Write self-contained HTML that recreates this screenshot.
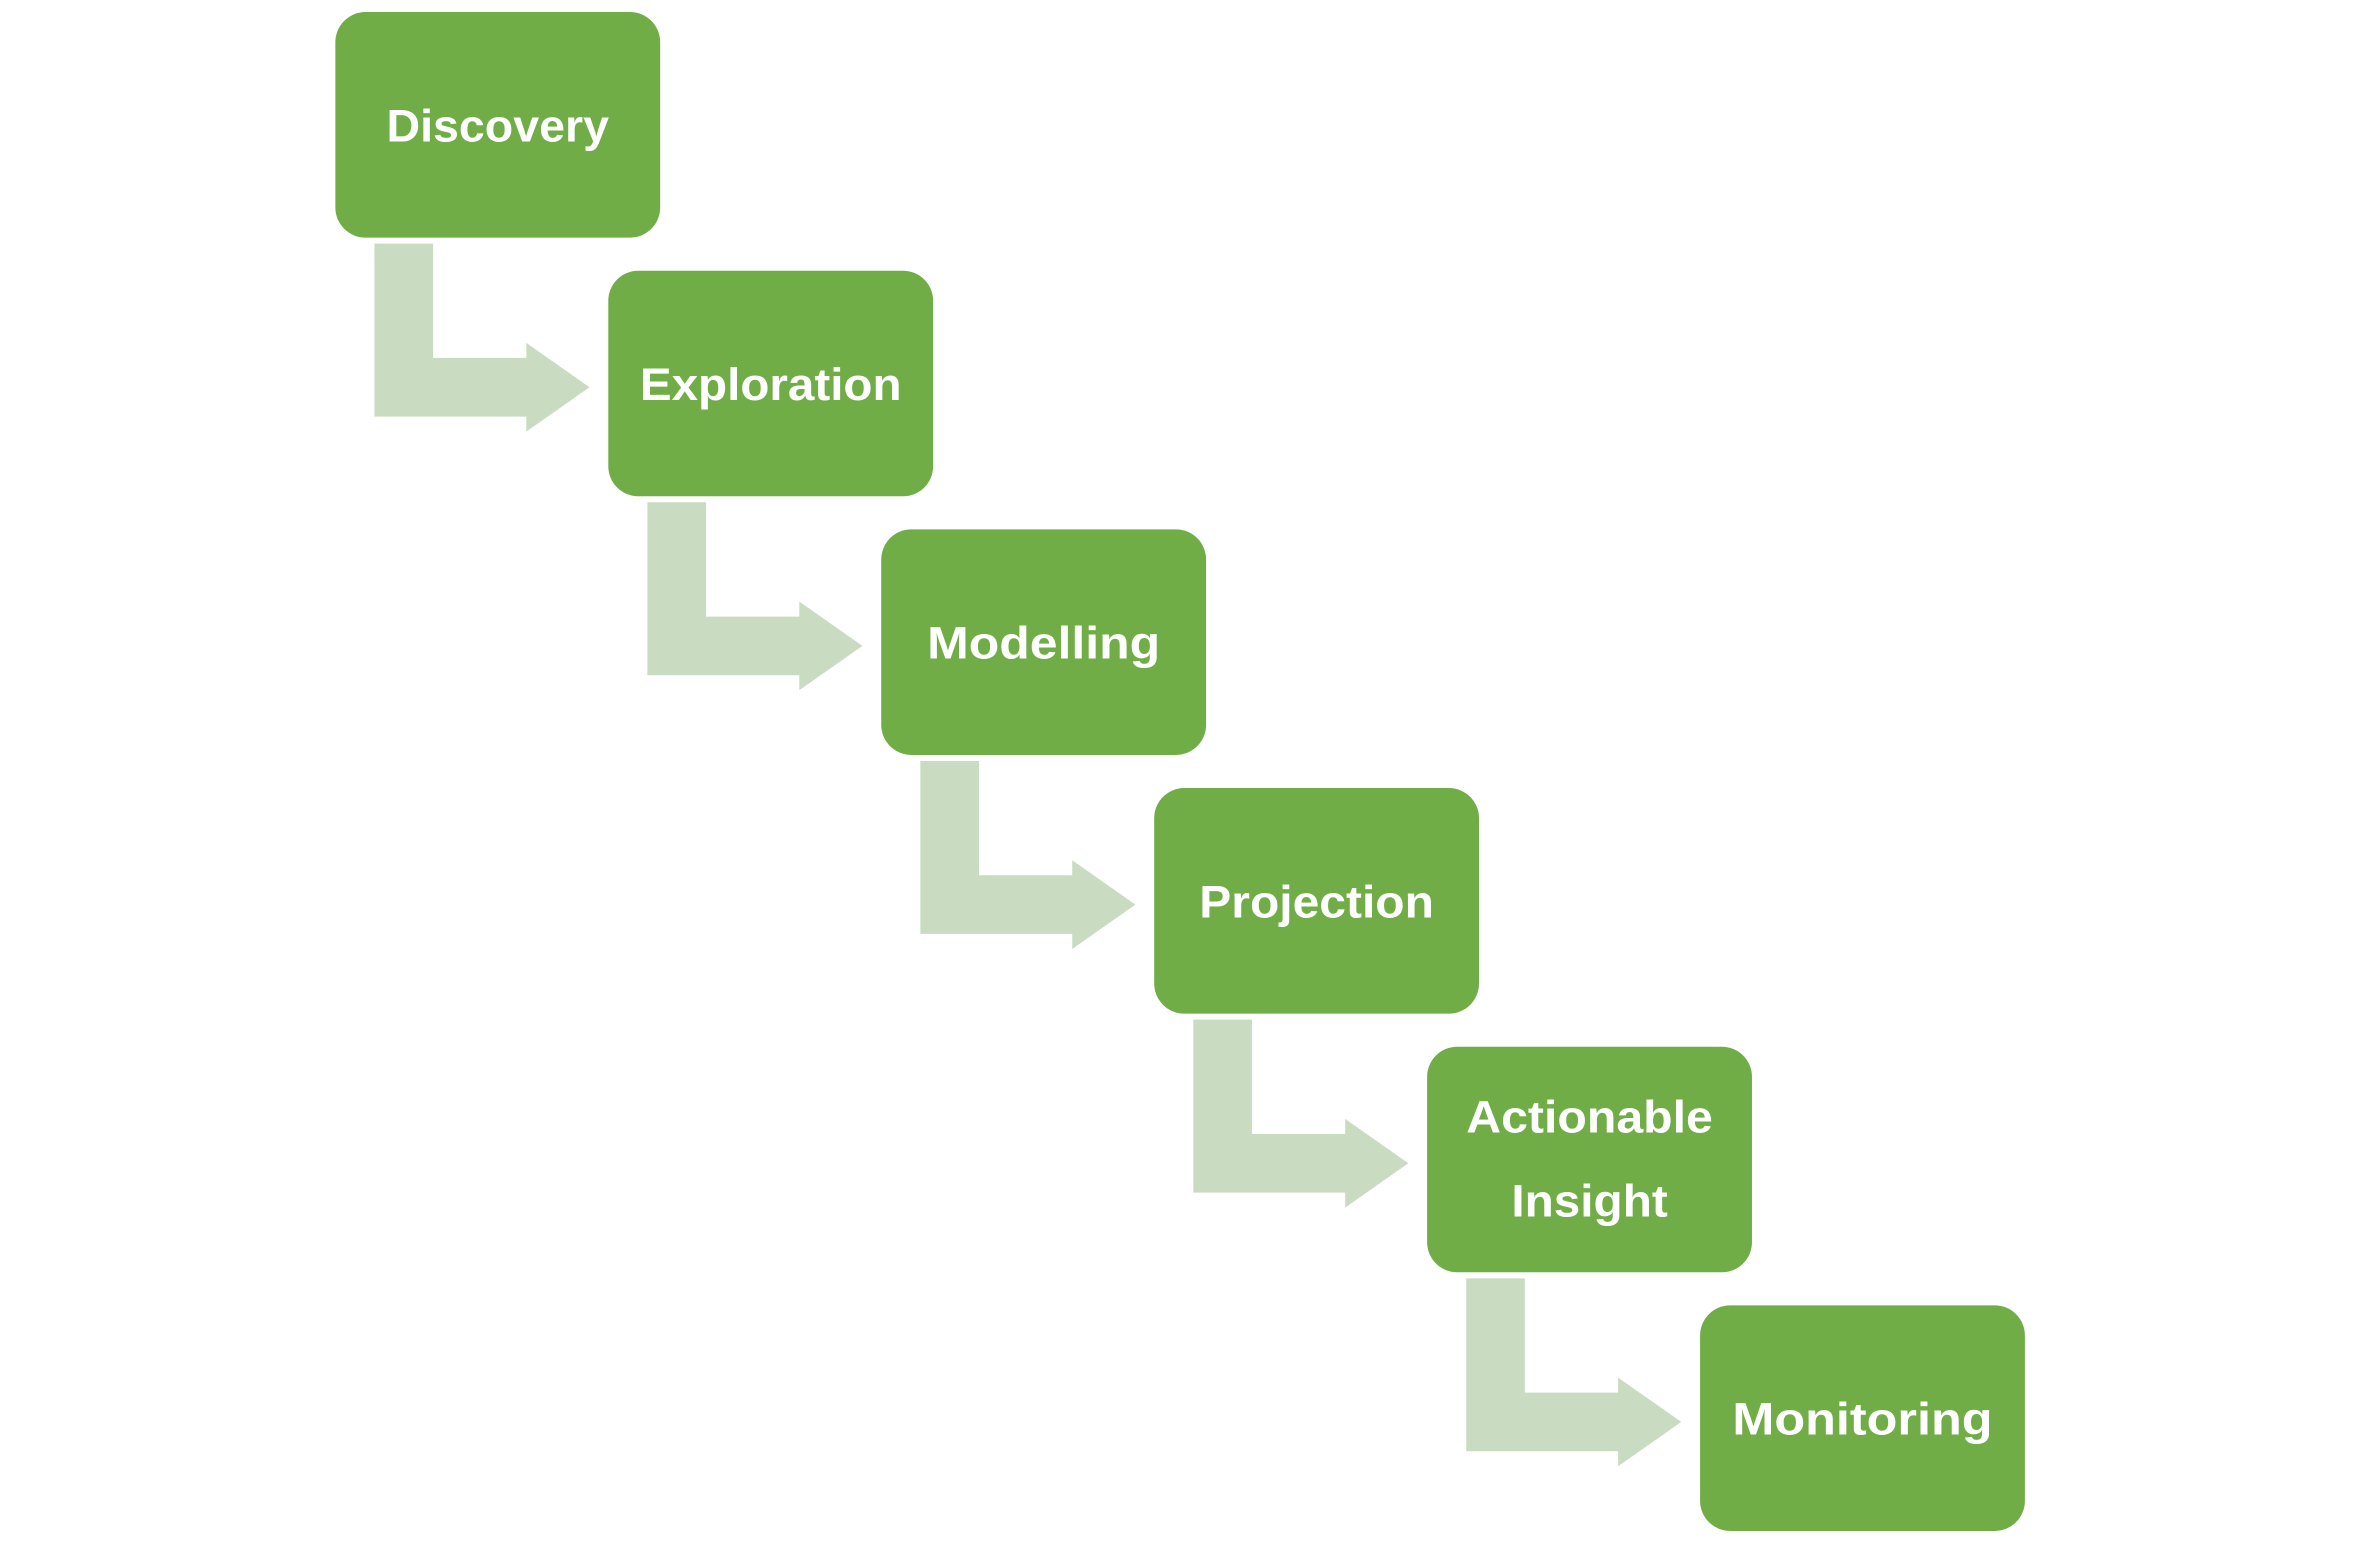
<!DOCTYPE html>
<html><head><meta charset="utf-8"><style>
html,body{margin:0;padding:0;background:#fff;}
svg{display:block;}
text{font-family:"Liberation Sans",sans-serif;font-weight:bold;fill:#fff;}
</style></head><body>
<svg width="2358" height="1543" viewBox="0 0 1568 1026" preserveAspectRatio="none" xmlns="http://www.w3.org/2000/svg">
<defs>
<path id="arr" d="M249,162 L288,162 L288,238 L350,238 L350,228 L392,257.5 L350,287 L350,277 L249,277 Z" fill="#C9DCC2"/>
<rect id="box" x="223" y="8" width="216" height="150" rx="20" ry="20" fill="#70AD47"/>
</defs>
<use href="#arr" x="0" y="0"/>
<use href="#arr" x="181.5" y="172"/>
<use href="#arr" x="363" y="344"/>
<use href="#arr" x="544.5" y="516"/>
<use href="#arr" x="726" y="688"/>
<use href="#box" x="0" y="0"/>
<use href="#box" x="181.5" y="172"/>
<use href="#box" x="363" y="344"/>
<use href="#box" x="544.5" y="516"/>
<use href="#box" x="726" y="688"/>
<use href="#box" x="907.5" y="860"/>
<g font-size="30" text-anchor="middle">
<text x="331" y="94" textLength="148" lengthAdjust="spacingAndGlyphs">Discovery</text>
<text x="512.5" y="266" textLength="174" lengthAdjust="spacingAndGlyphs">Exploration</text>
<text x="694" y="438" textLength="155" lengthAdjust="spacingAndGlyphs">Modelling</text>
<text x="875.5" y="610" textLength="156" lengthAdjust="spacingAndGlyphs">Projection</text>
<text x="1057" y="753" textLength="164" lengthAdjust="spacingAndGlyphs">Actionable</text>
<text x="1057" y="809" textLength="104" lengthAdjust="spacingAndGlyphs">Insight</text>
<text x="1238.5" y="954" textLength="173" lengthAdjust="spacingAndGlyphs">Monitoring</text>
</g>
</svg>
</body></html>
